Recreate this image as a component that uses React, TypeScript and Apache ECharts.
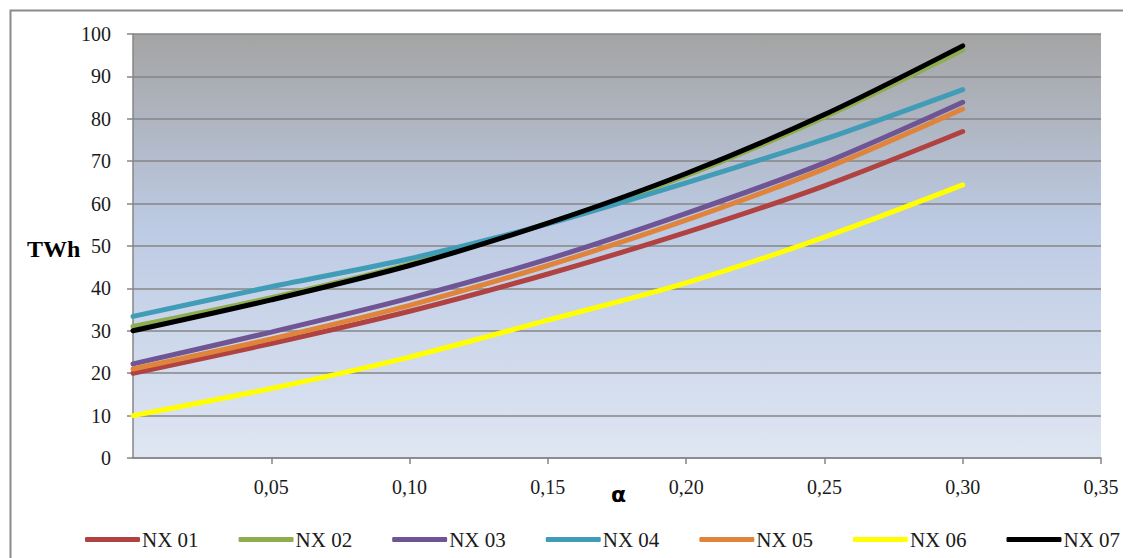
import React, { useEffect, useRef } from "react";
import * as echarts from "echarts";

const alphas = [0, 0.05, 0.1, 0.15, 0.2, 0.25, 0.3];
const seriesNames = ["NX 01", "NX 02", "NX 03", "NX 04", "NX 05", "NX 06", "NX 07"];
const nx01 = [20, 27.0, 34.6, 43.4, 53.2, 64.2, 77.0];
const nx02 = [31, 37.8, 45.7, 55.4, 66.6, 80.4, 96.2];
const nx03 = [22.2, 29.7, 37.7, 46.9, 57.7, 69.6, 83.9];
const nx04 = [33.4, 40.4, 47.0, 55.2, 64.9, 75.2, 86.9];
const nx05 = [21, 28.1, 36.0, 45.4, 56.1, 68.2, 82.3];
const nx06 = [10, 16.4, 23.8, 32.5, 41.3, 52.1, 64.4];
const nx07 = [30, 37.3, 45.4, 55.4, 67.1, 81.0, 97.2];
const colors = ["#b04341", "#8fad4f", "#6f5593", "#419db7", "#e0843b", "#ffff00", "#000000"];

const allValues = [nx01, nx02, nx03, nx04, nx05, nx06, nx07];
const serif = "'Liberation Serif', 'DejaVu Serif', serif";

export default function App() {
  const ref = useRef<HTMLDivElement>(null);
  useEffect(() => {
    if (!ref.current) return;
    const chart = echarts.init(ref.current, undefined, { renderer: "svg" });
    chart.setOption({
      animation: false,
      backgroundColor: "#ffffff",
      textStyle: { fontFamily: serif },
      grid: {
        left: 125,
        top: 26,
        right: 30,
        bottom: 102,
        show: true,
        borderWidth: 0,
        backgroundColor: new echarts.graphic.LinearGradient(0, 0, 0, 1, [
          { offset: 0, color: "#a4a4a4" },
          { offset: 0.45, color: "#bccae3" },
          { offset: 1, color: "#dfe6f3" },
        ]),
      },
      xAxis: {
        type: "value",
        min: 0,
        max: 0.35,
        interval: 0.05,
        axisLine: { show: true, lineStyle: { color: "#868686", width: 1.5 } },
        axisTick: { show: true, inside: false, length: 6, lineStyle: { color: "#868686", width: 1.5 } },
        splitLine: { show: false },
        axisLabel: {
          margin: 19,
          fontFamily: serif,
          fontSize: 20,
          color: "#1a1a1a",
          showMinLabel: false,
          formatter: (v: number) => (v === 0 ? "" : v.toFixed(2).replace(".", ",")),
        },
      },
      yAxis: {
        type: "value",
        min: 0,
        max: 100,
        interval: 10,
        axisLine: { show: true, lineStyle: { color: "#868686", width: 1.5 } },
        axisTick: { show: true, inside: false, length: 6, lineStyle: { color: "#868686", width: 1.5 } },
        splitLine: { show: true, lineStyle: { color: "#868686", width: 1.5 } },
        axisLabel: {
          margin: 22,
          fontFamily: serif,
          fontSize: 20,
          color: "#1a1a1a",
        },
      },
      legend: {
        left: 72,
        top: 516,
        itemWidth: 55,
        itemHeight: 5,
        itemGap: 40,
        icon: "roundRect",
        textStyle: { fontFamily: serif, fontSize: 21, color: "#1a1a1a", padding: [0, 0, 0, -3] },
        data: seriesNames,
      },
      graphic: [
        {
          type: "rect",
          left: 0,
          top: 0,
          shape: { width: 1121, height: 580 },
          style: { fill: "none", stroke: "#8a8a8a", lineWidth: 2 },
          silent: true,
        },
        {
          type: "text",
          left: 19,
          top: 229,
          style: { text: "TWh", font: `bold 24px ${serif}`, fill: "#000" },
        },
        {
          type: "text",
          left: 603,
          top: 475,
          style: { text: "α", font: "bold 22px 'DejaVu Sans', sans-serif", fill: "#000" },
        },
      ],
      series: seriesNames.map((name, i) => ({
        name,
        type: "line",
        smooth: 0.3,
        symbol: "none",
        color: colors[i],
        lineStyle: { width: 5, color: colors[i], cap: "round" },
        data: alphas.map((a, j) => [a, allValues[i][j]]),
      })),
    });
    return () => chart.dispose();
  }, []);
  return <div ref={ref} style={{ width: 1123, height: 552 }} />;
}
